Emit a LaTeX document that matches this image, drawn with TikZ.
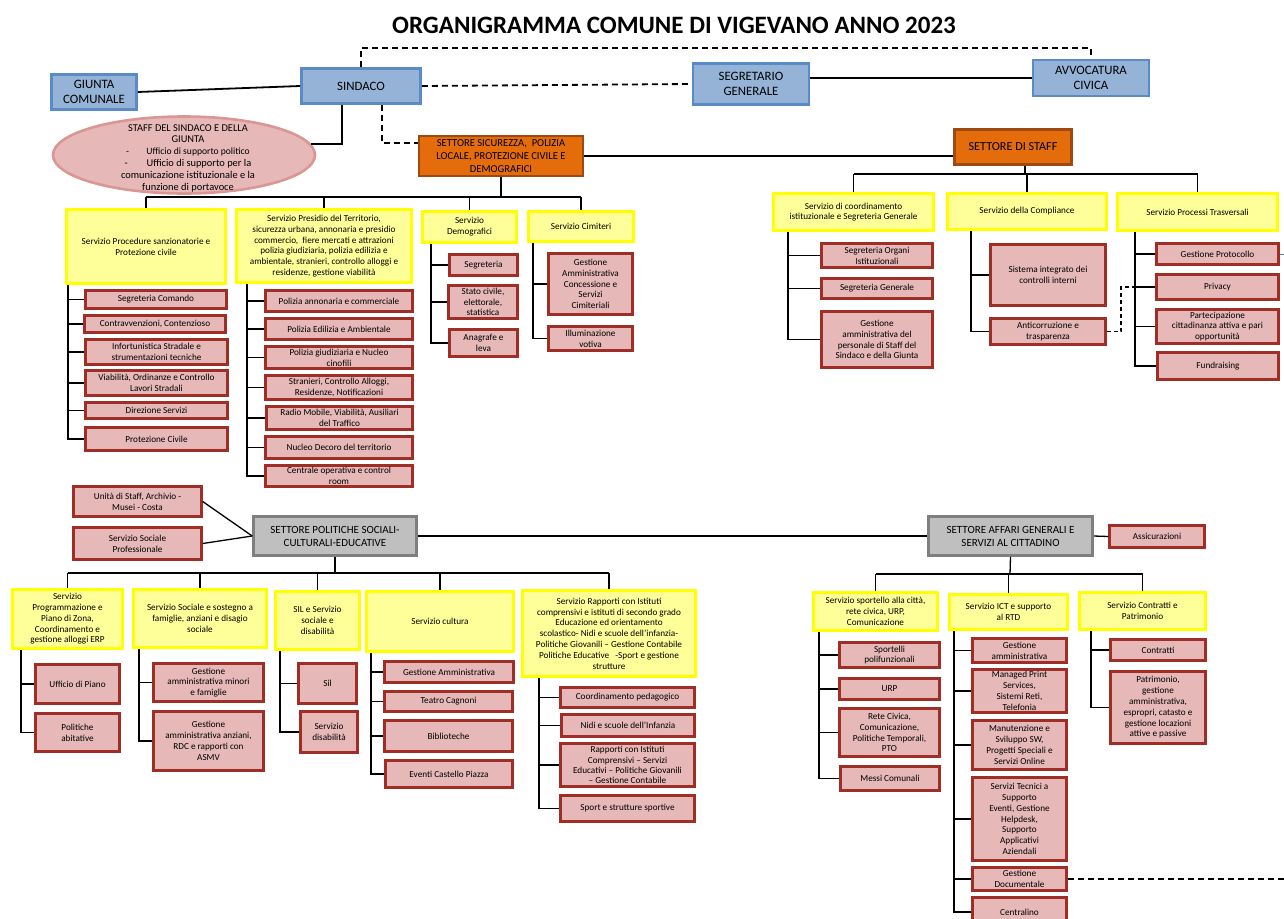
\documentclass[tikz,border=0pt]{standalone}
\usepackage{fontspec}
\setmainfont{Carlito}
\usetikzlibrary{shapes.geometric}

\definecolor{riempblu}{HTML}{95B3D7}
\definecolor{bordoblu}{HTML}{5B8BC6}
\definecolor{riemparancio}{HTML}{E46C0A}
\definecolor{bordoarancio}{HTML}{9C4A12}
\definecolor{riempgrigio}{HTML}{BFBFBF}
\definecolor{bordogrigio}{HTML}{7F7F7F}
\definecolor{riempgiallo}{HTML}{FFFF99}
\definecolor{bordogiallo}{HTML}{FFFF00}
\definecolor{riemprosa}{HTML}{E6B9B8}
\definecolor{bordorosso}{HTML}{9E2E26}
\definecolor{bordoellisse}{HTML}{D99694}
\definecolor{lineablu}{HTML}{4F81BD}

\begin{document}
\begin{tikzpicture}[x=1pt, y=-1pt,
    every node/.style={align=center, inner sep=1pt},
    dim/.style 2 args={minimum width=#1-3, minimum height=#2-3},
    blu/.style={draw=bordoblu, fill=riempblu, line width=2.6pt, font=\fontsize{12.8}{14.5}\selectfont},
    arancio/.style={draw=bordoarancio, fill=riemparancio, line width=2.4pt, font=\fontsize{10.6}{12.6}\selectfont},
    grigio/.style={draw=bordogrigio, fill=riempgrigio, line width=2.6pt, font=\fontsize{11}{13}\selectfont},
    giallo/.style={draw=bordogiallo, fill=riempgiallo, line width=3pt, preaction={draw=black!22, line width=3.9pt},
        font=\fontsize{9.2}{10.8}\selectfont},
    rosso/.style={draw=bordorosso, fill=riemprosa, line width=2.4pt, font=\fontsize{9.2}{10.8}\selectfont},
    linea/.style={line width=1.3pt},
    lineaforte/.style={line width=1.8pt},
    tratt/.style={line width=1.8pt, dash pattern=on 6pt off 4pt},
    trattfine/.style={line width=1.2pt, dash pattern=on 4pt off 3pt}]
    \useasboundingbox (0,0) rectangle (1284,918);

    % Titolo
    \node (titolo) at (674,25) {\fontsize{25}{28}\selectfont\bfseries ORGANIGRAMMA COMUNE DI VIGEVANO ANNO 2023};

    % Vertice
    \node (giunta) at (94,92) [blu, dim={88}{38}] {GIUNTA\\COMUNALE};
    \node (sindaco) at (361,86) [blu, dim={122}{38}] {SINDACO};
    \node (segretario) at (751,84) [blu, dim={119}{44}] {SEGRETARIO\\GENERALE};
    \node (avvocatura) at (1091,78) [blu, dim={119}{39}] {AVVOCATURA\\CIVICA};

    \node (staffsind) at (184,155) [ellipse, draw=bordoellisse, fill=riemprosa, line width=2.6pt, minimum width=262, minimum height=77, inner sep=0pt] {};
    \node (staffsindtesto) at (188,158) [font=\fontsize{10.4}{11.8}\selectfont] {STAFF DEL SINDACO E DELLA\\GIUNTA\\\fontsize{9.6}{11.8}\selectfont -\hspace{1.8em}Ufficio di supporto politico\\-\hspace{1.8em}Ufficio di supporto per la\\comunicazione istituzionale e la\\funzione di portavoce};

    \node (sicurezza) at (501,156) [arancio, dim={167}{43}] {SETTORE SICUREZZA,~ POLIZIA\\LOCALE, PROTEZIONE CIVILE E\\DEMOGRAFICI};
    \node (staffset) at (1013,147) [arancio, dim={120}{38}, font=\fontsize{12.2}{14}\selectfont] {SETTORE DI STAFF};

    % Settore sicurezza
    \node (procsanz) at (146,246.5) [giallo, dim={162}{77}] {Servizio Procedure sanzionatorie e\\Protezione civile};
    \node (presidio) at (324,246) [giallo, dim={178}{76}] {Servizio Presidio del Territorio,\\sicurezza urbana, annonaria e presidio\\commercio,~ fiere mercati e attrazioni\\polizia giudiziaria, polizia edilizia e\\ambientale, stranieri, controllo alloggi e\\residenze, gestione viabilità};
    \node (demografici) at (469.5,227) [giallo, dim={97}{34}] {Servizio\\Demografici};
    \node (cimiteri) at (581,226.5) [giallo, dim={108}{33}] {Servizio Cimiteri};

    \node (segcom) at (156,299.5) [rosso, dim={144}{21}] {Segreteria Comando};
    \node (contrav) at (155,324) [rosso, dim={144}{20}] {Contravvenzioni, Contenzioso};
    \node (infort) at (156.5,352) [rosso, dim={145}{28}] {Infortunistica Stradale e\\strumentazioni tecniche};
    \node (viabil) at (156.5,383) [rosso, dim={145}{28}] {Viabilità, Ordinanze e Controllo\\Lavori Stradali};
    \node (direz) at (156.5,410.5) [rosso, dim={145}{19}] {Direzione Servizi};
    \node (protciv) at (156.5,439) [rosso, dim={145}{26}] {Protezione Civile};

    \node (polann) at (339,301) [rosso, dim={150}{24}] {Polizia annonaria e commerciale};
    \node (poledil) at (339,329) [rosso, dim={150}{24}] {Polizia Edilizia e Ambientale};
    \node (polgiud) at (339,357.5) [rosso, dim={150}{25}] {Polizia giudiziaria e Nucleo\\cinofili};
    \node (stranieri) at (339,387.5) [rosso, dim={150}{27}] {Stranieri, Controllo Alloggi,\\Residenze, Notificazioni};
    \node (radio) at (339.5,418) [rosso, dim={149}{26}] {Radio Mobile, Viabilità, Ausiliari\\del Traffico};
    \node (decoro) at (339,447.5) [rosso, dim={150}{25}] {Nucleo Decoro del territorio};
    \node (centrale) at (339,476) [rosso, dim={150}{24}] {Centrale operativa e control\\room};

    \node (segreteria) at (483.5,265) [rosso, dim={71}{24}] {Segreteria};
    \node (statociv) at (483,302) [rosso, dim={72}{36}] {Stato civile,\\elettorale,\\statistica};
    \node (anagrafe) at (483.5,343) [rosso, dim={71}{30}] {Anagrafe e\\leva};

    \node (gestcim) at (590.5,284) [rosso, dim={87}{64}] {Gestione\\Amministrativa\\Concessione e\\Servizi\\Cimiteriali};
    \node (illum) at (590.5,338.5) [rosso, dim={87}{27}] {Illuminazione\\votiva};

    % Settore di staff
    \node (coord) at (853.5,212) [giallo, dim={163}{40}] {Servizio di coordinamento\\istituzionale e Segreteria Generale};
    \node (compl) at (1027,211.5) [giallo, dim={162}{39}] {Servizio della Compliance};
    \node (processi) at (1197.5,212) [giallo, dim={163}{40}] {Servizio Processi Trasversali};

    \node (segorg) at (877,255.5) [rosso, dim={114}{27}] {Segreteria Organi\\Istituzionali};
    \node (seggen) at (877,288.5) [rosso, dim={114}{23}] {Segreteria Generale};
    \node (gestpers) at (877,339.5) [rosso, dim={114}{59}] {Gestione\\amministrativa del\\personale di Staff del\\Sindaco e della Giunta};

    \node (sistint) at (1048,275) [rosso, dim={118}{64}] {Sistema integrato dei\\controlli interni};
    \node (anticorr) at (1048,331.5) [rosso, dim={118}{29}] {Anticorruzione e\\trasparenza};

    \node (protoc) at (1217.5,254) [rosso, dim={125}{24}] {Gestione Protocollo};
    \node (privacy) at (1217.5,287) [rosso, dim={125}{28}] {Privacy};
    \node (partecip) at (1217.5,326.5) [rosso, dim={125}{37}] {Partecipazione\\cittadinanza attiva e pari\\opportunità};
    \node (fundr) at (1218,366) [rosso, dim={124}{30}] {Fundraising};

    % Settore politiche sociali
    \node (politiche) at (335,536) [grigio, dim={166}{42}] {SETTORE POLITICHE SOCIALI-\\CULTURALI-EDUCATIVE};
    \node (unita) at (137.5,501.5) [rosso, dim={131}{33}] {Unità di Staff, Archivio -\\Musei - Costa};
    \node (socprof) at (137.5,543.5) [rosso, dim={131}{35}] {Servizio Sociale\\Professionale};

    \node (programm) at (67.5,619) [giallo, dim={113}{62}] {Servizio\\Programmazione e\\Piano di Zona,\\Coordinamento e\\gestione alloggi ERP};
    \node (socfam) at (200,618.5) [giallo, dim={136}{61}] {Servizio Sociale e sostegno a\\famiglie, anziani e disagio\\sociale};
    \node (sil) at (317.5,620.5) [giallo, dim={87}{61}] {SIL e Servizio\\sociale e\\disabilità};
    \node (cultura) at (440,621.5) [giallo, dim={150}{63}] {Servizio cultura};
    \node (rapporti) at (609,633.5) [giallo, dim={176}{89}] {Servizio Rapporti con Istituti\\comprensivi e istituti di secondo grado\\Educazione ed orientamento\\scolastico- Nidi e scuole dell’infanzia-\\Politiche Giovanili – Gestione Contabile\\Politiche Educative~~ -Sport e gestione\\strutture};

    \node (uffpiano) at (77.5,684) [rosso, dim={87}{42}] {Ufficio di Piano};
    \node (politab) at (77.5,732.5) [rosso, dim={87}{41}] {Politiche\\abitative};
    \node (gestmin) at (208.5,682.5) [rosso, dim={113}{41}] {Gestione\\amministrativa minori\\e famiglie};
    \node (gestanz) at (208.5,741) [rosso, dim={113}{62}] {Gestione\\amministrativa anziani,\\RDC e rapporti con\\ASMV};
    \node (silbox) at (327.5,683.5) [rosso, dim={61}{43}] {Sil};
    \node (disab) at (329,732) [rosso, dim={60}{44}] {Servizio\\disabilità};
    \node (gestamm) at (449,672) [rosso, dim={132}{24}] {Gestione Amministrativa};
    \node (teatro) at (448.5,701.5) [rosso, dim={131}{23}] {Teatro Cagnoni};
    \node (bibl) at (448.5,736) [rosso, dim={131}{34}] {Biblioteche};
    \node (eventi) at (449,774) [rosso, dim={130}{30}] {Eventi Castello Piazza};
    \node (coordped) at (627.5,697.5) [rosso, dim={137}{23}] {Coordinamento pedagogico};
    \node (nidi) at (628,725.5) [rosso, dim={136}{25}] {Nidi e scuole dell’Infanzia};
    \node (rappist) at (627.5,765) [rosso, dim={137}{46}, font=\fontsize{9.2}{10.2}\selectfont] {Rapporti con Istituti\\Comprensivi – Servizi\\Educativi – Politiche Giovanili\\– Gestione Contabile};
    \node (sport) at (627.5,808.5) [rosso, dim={137}{29}] {Sport e strutture sportive};

    % Settore affari generali
    \node (affari) at (1010.5,536) [grigio, dim={167}{42}] {SETTORE AFFARI GENERALI E\\SERVIZI AL CITTADINO};
    \node (assic) at (1157,536.5) [rosso, dim={98}{25}] {Assicurazioni};

    \node (sportello) at (875.5,611.5) [giallo, dim={127}{41}] {Servizio sportello alla città,\\rete civica, URP,\\Comunicazione};
    \node (ict) at (1008.5,612) [giallo, dim={121}{38}] {Servizio ICT e supporto\\al RTD};
    \node (contratti) at (1142.5,611) [giallo, dim={129}{40}] {Servizio Contratti e\\Patrimonio};

    \node (sportelli) at (889.5,655) [rosso, dim={103}{28}] {Sportelli\\polifunzionali};
    \node (urp) at (889.5,689) [rosso, dim={103}{24}] {URP};
    \node (retciv) at (889.5,732.5) [rosso, dim={103}{51}] {Rete Civica,\\Comunicazione,\\Politiche Temporali,\\PTO};
    \node (messi) at (890,778.5) [rosso, dim={102}{27}] {Messi Comunali};

    \node (gestammict) at (1019.5,650.5) [rosso, dim={97}{27}] {Gestione\\amministrativa};
    \node (managed) at (1019.5,691) [rosso, dim={97}{46}] {Managed Print\\Services,\\Sistemi Reti,\\Telefonia};
    \node (manut) at (1019.5,745) [rosso, dim={97}{52}] {Manutenzione e\\Sviluppo SW,\\Progetti Speciali e\\Servizi Online};
    \node (tecnici) at (1019.5,819) [rosso, dim={97}{86}] {Servizi Tecnici a\\Supporto\\Eventi, Gestione\\Helpdesk,\\Supporto\\Applicativi\\Aziendali};
    \node (gestdoc) at (1019.5,879) [rosso, dim={97}{26}] {Gestione\\Documentale};
    \node (centralino) at (1019.5,912) [rosso, dim={97}{32}] {Centralino};

    \node (contr) at (1158,650) [rosso, dim={98}{24}] {Contratti};
    \node (patrim) at (1158,707.5) [rosso, dim={98}{75}] {Patrimonio,\\gestione\\amministrativa,\\espropri, catasto e\\gestione locazioni\\attive e passive};

    % Punti di appoggio delle linee
    \coordinate (ctop) at (700,48);
    \coordinate (sx1) at (342,143);
    \coordinate (sx2) at (382,143);
    \coordinate (tsic) at (501,197);
    \coordinate (tstaff) at (1025,174);
    \coordinate (tpol) at (335,573);
    \coordinate (taff) at (1010,574);
    \coordinate (bsanz) at (68,285);
    \coordinate (bpres) at (247,284);
    \coordinate (bdemo) at (431,244);
    \coordinate (bcim) at (533,243);
    \coordinate (bcoord) at (788,232);
    \coordinate (bcompl) at (971,231);
    \coordinate (bproc) at (1135,232);
    \coordinate (dx) at (1121,0);
    \coordinate (bprog) at (21,650);
    \coordinate (bsoc) at (139,649);
    \coordinate (bsil) at (280,651);
    \coordinate (bcult) at (371,653);
    \coordinate (brapp) at (539,678);
    \coordinate (bsport) at (819,632);
    \coordinate (bict) at (954,631);
    \coordinate (bcontr) at (1091,631);
    \coordinate (bordo1) at (1284,254);
    \coordinate (bordo2) at (1284,879);

    % Collegamenti del vertice
    \draw[lineaforte] (giunta.east) -- (sindaco.west);
    \draw[tratt] (sindaco.east) -- (segretario.west);
    \draw[tratt] (sindaco.north) -- (sindaco.north |- ctop) -| (avvocatura.north);
    \draw[lineaforte] (segretario.east |- avvocatura.west) -- (avvocatura.west);
    \draw[lineaforte] (sindaco.south -| sx1) |- (staffsind.5.5);
    \draw[tratt] (sindaco.south -| sx2) -- (sx2) -- (sicurezza.west |- sx2);
    \draw[lineaforte] (sicurezza.east) -- (sicurezza.east -| staffset.west);

    % Albero settore sicurezza
    \draw[linea] (sicurezza.south) -- (tsic);
    \draw[linea] (procsanz.north |- tsic) -- (cimiteri.north |- tsic);
    \draw[linea] (procsanz.north |- tsic) -- (procsanz.north) (presidio.north |- tsic) -- (presidio.north)
        (demografici.north |- tsic) -- (demografici.north) (cimiteri.north |- tsic) -- (cimiteri.north);
    \draw[linea] (bsanz) |- (protciv.west) (bsanz |- segcom) -- (segcom.west) (bsanz |- contrav) -- (contrav.west)
        (bsanz |- infort) -- (infort.west) (bsanz |- viabil) -- (viabil.west) (bsanz |- direz) -- (direz.west);
    \draw[linea] (bpres) |- (centrale.west) (bpres |- polann) -- (polann.west) (bpres |- poledil) -- (poledil.west)
        (bpres |- polgiud) -- (polgiud.west) (bpres |- stranieri) -- (stranieri.west) (bpres |- radio) -- (radio.west)
        (bpres |- decoro) -- (decoro.west);
    \draw[linea] (bdemo) |- (anagrafe.west) (bdemo |- segreteria) -- (segreteria.west) (bdemo |- statociv) -- (statociv.west);
    \draw[linea] (bcim) |- (illum.west) (bcim |- gestcim) -- (gestcim.west);

    % Albero settore di staff
    \draw[linea] (staffset.south -| tstaff) -- (tstaff);
    \draw[linea] (coord.north |- tstaff) -- (processi.north |- tstaff);
    \draw[linea] (coord.north |- tstaff) -- (coord.north) (compl.north |- tstaff) -- (compl.north)
        (processi.north |- tstaff) -- (processi.north);
    \draw[linea] (bcoord) |- (gestpers.west) (bcoord |- segorg) -- (segorg.west) (bcoord |- seggen) -- (seggen.west);
    \draw[linea] (bcompl) |- (anticorr.west) (bcompl |- sistint) -- (sistint.west);
    \draw[linea] (bproc) |- (fundr.west) (bproc |- protoc) -- (protoc.west) (bproc |- privacy) -- (privacy.west)
        (bproc |- partecip) -- (partecip.west);
    \draw[trattfine] (anticorr.east) -| (dx |- privacy) -- (bproc |- privacy);
    \draw[line width=1pt, lineablu] (protoc.east) -- (bordo1);

    % Settori in basso
    \draw[linea] (unita.east) -- (politiche.west);
    \draw[linea] (socprof.east) -- (politiche.west);
    \draw[lineaforte] (politiche.east) -- (affari.west);
    \draw[linea] (affari.east) -- (assic.west);

    \draw[linea] (politiche.south) -- (tpol);
    \draw[linea] (programm.north |- tpol) -- (rapporti.north |- tpol);
    \draw[linea] (programm.north |- tpol) -- (programm.north) (socfam.north |- tpol) -- (socfam.north)
        (sil.north |- tpol) -- (sil.north) (cultura.north |- tpol) -- (cultura.north) (rapporti.north |- tpol) -- (rapporti.north);
    \draw[linea] (bprog) |- (politab.west) (bprog |- uffpiano) -- (uffpiano.west);
    \draw[linea] (bsoc) |- (gestanz.west) (bsoc |- gestmin) -- (gestmin.west);
    \draw[linea] (bsil) |- (disab.west) (bsil |- silbox) -- (silbox.west);
    \draw[linea] (bcult) |- (eventi.west) (bcult |- gestamm) -- (gestamm.west) (bcult |- teatro) -- (teatro.west)
        (bcult |- bibl) -- (bibl.west);
    \draw[linea] (brapp) |- (sport.west) (brapp |- coordped) -- (coordped.west) (brapp |- nidi) -- (nidi.west)
        (brapp |- rappist) -- (rappist.west);

    \draw[linea] (affari.south) -- (taff);
    \draw[linea] (sportello.north |- taff) -- (contratti.north |- taff);
    \draw[linea] (sportello.north |- taff) -- (sportello.north) (ict.north |- taff) -- (ict.north)
        (contratti.north |- taff) -- (contratti.north);
    \draw[linea] (bsport) |- (messi.west) (bsport |- sportelli) -- (sportelli.west) (bsport |- urp) -- (urp.west)
        (bsport |- retciv) -- (retciv.west);
    \draw[linea] (bict) |- (centralino.west) (bict |- gestammict) -- (gestammict.west) (bict |- managed) -- (managed.west)
        (bict |- manut) -- (manut.west) (bict |- tecnici) -- (tecnici.west) (bict |- gestdoc) -- (gestdoc.west);
    \draw[linea] (bcontr) |- (patrim.west) (bcontr |- contr) -- (contr.west);
    \draw[tratt] (gestdoc.east) -- (bordo2);
\end{tikzpicture}
\end{document}
